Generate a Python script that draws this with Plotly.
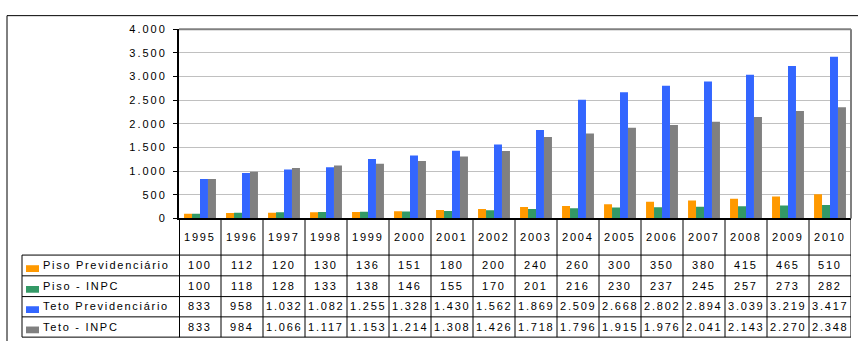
import plotly.graph_objects as go

years = list(range(1995, 2011))
series_names = ["Piso Previdenciário", "Piso - INPC", "Teto Previdenciário", "Teto - INPC"]
piso_prev = [100, 112, 120, 130, 136, 151, 180, 200, 240, 260, 300, 350, 380, 415, 465, 510]
piso_inpc = [100, 118, 128, 133, 138, 146, 155, 170, 201, 216, 230, 237, 245, 257, 273, 282]
teto_prev = [833, 958, 1032, 1082, 1255, 1328, 1430, 1562, 1869, 2509, 2668, 2802, 2894, 3039, 3219, 3417]
teto_inpc = [833, 984, 1066, 1117, 1153, 1214, 1308, 1426, 1718, 1796, 1915, 1976, 2041, 2143, 2270, 2348]
y_ticks = [0, 500, 1000, 1500, 2000, 2500, 3000, 3500, 4000]

series = [piso_prev, piso_inpc, teto_prev, teto_inpc]
colors = ["#FF9900", "#339966", "#3366FF", "#808080"]

W, H = 858, 347
FONT = "Liberation Sans, Arial, sans-serif"


def px_x(p):
    return p / W


def px_y(p):
    return 1 - p / H


def fmt(v):
    return f"{v:,}".replace(",", ".")


def spaced(s, sp=1.8):
    return f'<span style="letter-spacing:{sp}px">{s}</span>'


fig = go.Figure()
for name, vals, col in zip(series_names, series, colors):
    fig.add_trace(go.Bar(x=years, y=vals, name=name, marker=dict(color=col, line=dict(width=0))))

plot_left, plot_right, plot_top, plot_bottom = 179, 851, 24, 220
table_left = 22
row_lines = [258, 279.5, 301, 322, 343]

fig.update_layout(
    width=W, height=H,
    margin=dict(l=0, r=0, t=0, b=0),
    paper_bgcolor="white", plot_bgcolor="white",
    barmode="group", bargap=0.24, bargroupgap=0,
    showlegend=False,
    font=dict(family=FONT, size=11, color="black"),
    xaxis=dict(
        domain=[px_x(plot_left), px_x(plot_right)],
        range=[1994.5, 2010.5],
        showticklabels=False, showgrid=False, zeroline=False,
        showline=True, linecolor="black", linewidth=2,
    ),
    yaxis=dict(
        domain=[px_y(plot_bottom), px_y(plot_top)],
        range=[0, 4000],
        tickvals=y_ticks,
        ticktext=[spaced(fmt(v), 2) for v in y_ticks],
        ticks="outside", ticklen=4, tickcolor="black", tickwidth=1,
        ticklabelstandoff=4,
        showgrid=True, gridcolor="#C0C0C0", gridwidth=1,
        zeroline=False,
        showline=True, linecolor="black", linewidth=2,
        tickfont=dict(family=FONT, size=11, color="black"),
    ),
)

shapes = []
# outer frame
shapes.append(dict(type="line", xref="paper", yref="paper", x0=px_x(7), x1=1.0, y0=px_y(10), y1=px_y(10),
                   line=dict(color="black", width=1)))
shapes.append(dict(type="line", xref="paper", yref="paper", x0=px_x(7), x1=px_x(7), y0=px_y(10), y1=0,
                   line=dict(color="black", width=1)))
# plot area border (top and right)
shapes.append(dict(type="line", xref="x domain", yref="y domain", x0=0, x1=1, y0=1, y1=1,
                   line=dict(color="#808080", width=2)))
shapes.append(dict(type="line", xref="x domain", yref="y domain", x0=1, x1=1, y0=0, y1=1,
                   line=dict(color="#808080", width=2)))
# data table horizontal rules
for ry in row_lines:
    shapes.append(dict(type="line", xref="paper", yref="paper", x0=px_x(table_left), x1=px_x(plot_right),
                       y0=px_y(ry), y1=px_y(ry), line=dict(color="black", width=1)))
# table left edge
shapes.append(dict(type="line", xref="paper", yref="paper", x0=px_x(table_left), x1=px_x(table_left),
                   y0=px_y(row_lines[0]), y1=px_y(row_lines[-1]), line=dict(color="black", width=1)))
# column rules
for i in range(len(years) + 1):
    xb = years[0] - 0.5 + i
    shapes.append(dict(type="line", xref="x", yref="paper", x0=xb, x1=xb,
                       y0=px_y(plot_bottom), y1=px_y(row_lines[-1]),
                       line=dict(color="black", width=2 if i == 0 else 1)))

annotations = []
# year header
for yr in years:
    annotations.append(dict(x=yr, y=px_y(239), xref="x", yref="paper", text=spaced(str(yr)),
                            showarrow=False, xanchor="center", yanchor="middle",
                            font=dict(family=FONT, size=11, color="black")))
# rows: legend key, label, values
for r, (name, vals, col) in enumerate(zip(series_names, series, colors)):
    top, bot = row_lines[r], row_lines[r + 1]
    mid = (top + bot) / 2
    shapes.append(dict(type="rect", xref="paper", yref="paper",
                       x0=px_x(26), x1=px_x(39), y0=px_y(bot - 4), y1=px_y(bot - 11),
                       fillcolor=col, line=dict(width=0)))
    annotations.append(dict(x=px_x(41), y=px_y(mid - 0.5), xref="paper", yref="paper", text=spaced(name, 1.7),
                            showarrow=False, xanchor="left", yanchor="middle",
                            font=dict(family=FONT, size=11, color="black")))
    for yr, v in zip(years, vals):
        annotations.append(dict(x=yr, y=px_y(mid - 0.5), xref="x", yref="paper", text=spaced(fmt(v)),
                                showarrow=False, xanchor="center", yanchor="middle",
                                font=dict(family=FONT, size=11, color="black")))

fig.update_layout(shapes=shapes, annotations=annotations)
fig.write_html("out.html")
